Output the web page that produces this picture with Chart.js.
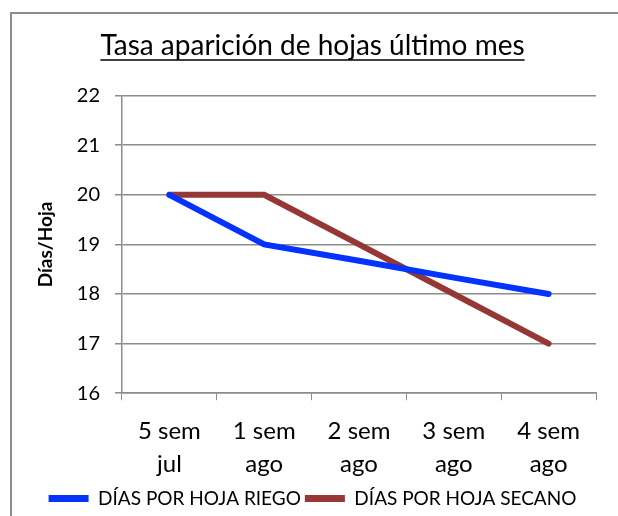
<!DOCTYPE html>
<html>
<head>
<meta charset="utf-8">
<script src="https://cdn.jsdelivr.net/npm/chart.js@4"></script>
<style>
    html, body { margin: 0; padding: 0; background: #fff; }
    #wrap { position: relative; width: 618px; height: 516px; }
    #frame { position: absolute; left: 10px; top: 12px; width: 620px; height: 520px; border: 2px solid #8c8c8c; box-sizing: border-box; }
    canvas { position: absolute; left: 0; top: 0; }
</style>
</head>
<body>
<div id="wrap">
    <div id="frame"></div>
    <canvas id="tasaChart" width="618" height="516"></canvas>
</div>
<script>
const semanas = [['5 sem', 'jul'], ['1 sem', 'ago'], ['2 sem', 'ago'], ['3 sem', 'ago'], ['4 sem', 'ago']];
const diasRiego = [20, 19, 18.67, 18.33, 18];
const diasSecano = [20, 20, 19, 18, 17];
const yTicks = [16, 17, 18, 19, 20, 21, 22];

const FONT = 'Lato, "Open Sans", sans-serif';

// subraya el titulo como en la hoja de calculo
const underlineTitle = {
    id: 'underlineTitle',
    afterDraw(chart) {
        const tb = chart.titleBlock;
        if (!tb) return;
        const ctx = chart.ctx;
        const opts = chart.options.plugins.title;
        ctx.save();
        ctx.font = `${opts.font.size}px ${FONT}`;
        const w = ctx.measureText(opts.text).width;
        const cx = (tb.left + tb.right) / 2;
        const y = tb.top + opts.padding.top + opts.font.size + 3;
        ctx.strokeStyle = '#000';
        ctx.lineWidth = 1.5;
        ctx.beginPath();
        ctx.moveTo(cx - w / 2, y);
        ctx.lineTo(cx + w / 2, y);
        ctx.stroke();
        ctx.restore();
    }
};

const ctx = document.getElementById('tasaChart').getContext('2d');
new Chart(ctx, {
    type: 'line',
    data: {
        labels: semanas,
        datasets: [{
            label: 'DÍAS POR HOJA RIEGO',
            data: diasRiego,
            borderColor: '#0433ff',
            backgroundColor: '#0433ff',
            borderWidth: 6,
            borderCapStyle: 'round',
            pointRadius: 0,
            fill: false
        }, {
            label: 'DÍAS POR HOJA SECANO',
            data: diasSecano,
            borderColor: '#953735',
            backgroundColor: '#953735',
            borderWidth: 6,
            borderCapStyle: 'round',
            pointRadius: 0,
            fill: false
        }]
    },
    options: {
        responsive: false,
        animation: false,
        layout: {
            padding: { left: 29, right: 22, top: 18, bottom: -2 }
        },
        plugins: {
            title: {
                display: true,
                text: 'Tasa aparición de hojas último mes',
                color: '#000',
                font: { family: FONT, size: 28, weight: 'normal' },
                padding: { top: 11, bottom: 33 }
            },
            legend: {
                position: 'bottom',
                labels: {
                    color: '#000',
                    font: { family: FONT, size: 19 },
                    boxWidth: 40,
                    boxHeight: 7,
                    useBorderRadius: true,
                    borderRadius: 3.5,
                    padding: 4,
                    generateLabels: (chart) => chart.data.datasets.map((ds, i) => ({
                        text: ds.label,
                        fillStyle: ds.borderColor,
                        strokeStyle: ds.borderColor,
                        lineWidth: 0,
                        datasetIndex: i
                    }))
                }
            },
            tooltip: { enabled: false }
        },
        scales: {
            x: {
                offset: true,
                afterFit: (axis) => { axis.height -= 10; },
                grid: {
                    offset: true,
                    drawOnChartArea: false,
                    drawTicks: true,
                    tickLength: 7,
                    color: '#8c8c8c'
                },
                border: { color: '#8c8c8c', width: 1.5 },
                ticks: {
                    color: '#000',
                    font: { family: FONT, size: 24, lineHeight: 1.35 },
                    padding: 15,
                    maxRotation: 0
                }
            },
            y: {
                min: 16,
                max: 22,
                afterBuildTicks: (axis) => { axis.ticks = yTicks.map(v => ({ value: v })); },
                grid: {
                    color: '#8c8c8c',
                    lineWidth: 1.5,
                    tickLength: 7
                },
                border: { color: '#8c8c8c', width: 1.5 },
                ticks: {
                    color: '#000',
                    font: { family: FONT, size: 20 },
                    padding: 15
                },
                title: {
                    display: true,
                    text: 'Días/Hoja',
                    color: '#000',
                    font: { family: FONT, size: 19, weight: 'bold' },
                    padding: 5
                }
            }
        }
    },
    plugins: [underlineTitle]
});
</script>
</body>
</html>
